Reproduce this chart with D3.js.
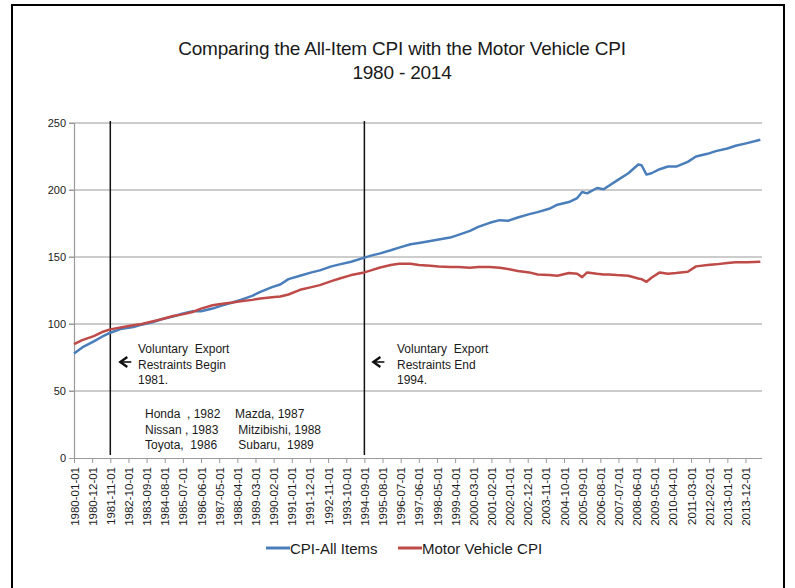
<!DOCTYPE html>
<html lang="en">
<head>
  <meta charset="utf-8">
  <title>CPI comparison</title>
  <script src="https://d3js.org/d3.v7.min.js"></script>
</head>
<style>
body { margin: 0; background: white; }
text { font-family: "Liberation Sans", Arial, sans-serif; fill: #1a1a1a; }
.title { font-size: 19px; letter-spacing: -0.2px; }
.ylab { font-size: 11px; }
.xlab { font-size: 11.5px; }
.note { font-size: 12px; }
.legend { font-size: 15px; }
.grid line { stroke: #9a9a9a; stroke-width: 1.2px; }
</style>
<body>
<div id="chart"></div>
<script>
// months of the samples
var dates = ["1980-01","1980-06","1981-01","1981-06","1981-11","1982-06","1983-01","1983-06","1984-01","1984-06",
  "1985-01","1985-06","1986-01","1986-06","1987-01","1987-06","1988-01","1988-06","1989-01","1989-06",
  "1990-01","1990-06","1990-11","1991-06","1992-01","1992-06","1993-01","1993-06","1994-01","1994-09",
  "1995-01","1995-06","1996-01","1996-06","1997-01","1997-06","1998-01","1998-06","1999-01","1999-06",
  "2000-01","2000-06","2001-01","2001-07","2001-12","2002-06","2003-01","2003-06","2004-01","2004-06",
  "2005-01","2005-06","2005-09","2005-12","2006-06","2006-10","2007-01","2007-06","2008-01","2008-07",
  "2008-09","2008-12","2009-03","2009-08","2010-01","2010-06","2011-01","2011-06","2012-01","2012-06",
  "2013-01","2013-06","2014-01","2014-09"];

var cpiAll = [78,82.5,87,90.5,93.5,96.5,97.8,99.5,101.5,103.5,
  105.5,107.5,109.5,109.5,111.5,113.5,116,118,121,124,
  127.5,129.5,133.5,136,138.5,140,143,144.5,146.5,149.5,
  151,152.5,155,157,159.5,160.5,162,163,164.5,166.5,
  169.5,172.5,175.5,177.5,177,179.5,182,183.5,186,189,
  191,194,198.5,197.5,201.5,200.5,203,207,212.5,219,
  218.5,211.5,212.5,215.5,217.5,217.5,221,225,227,229,
  231,233,235,237.5];

var motorCpi = [85,88,91,94,96,97.5,99,100,102,103.5,
  106,107,109,111.5,114,115,116,117,118,119,
  120,120.5,122,125.5,127.5,129,132,134,136.5,138.5,
  140,142,144,145,145,144,143.5,143,142.5,142.5,
  142,142.5,142.5,142,141,139.5,138.5,137,136.5,136,
  138,137.5,135,138.5,137.5,137,137,136.5,136,134,
  133.5,131.5,134.5,138.5,137.5,138,139,143,144,144.5,
  145.5,146,146,146.5];

var tickDates = ["1980-01","1980-12","1981-11","1982-10","1983-09","1984-08","1985-07","1986-06","1987-05","1988-04",
  "1989-03","1990-02","1991-01","1991-12","1992-11","1993-10","1994-09","1995-08","1996-07","1997-06",
  "1998-05","1999-04","2000-03","2001-02","2002-01","2002-12","2003-11","2004-10","2005-09","2006-08",
  "2007-07","2008-06","2009-05","2010-04","2011-03","2012-02","2013-01","2013-12"];
var yTicks = [0, 50, 100, 150, 200, 250];
var seriesNames = ["CPI-All Items", "Motor Vehicle CPI"];
var seriesColors = ["#4a7ebb", "#be4b48"];
var markerDates = ["1981-11", "1994-09"];

var width = 795, height = 588;
var svg = d3.select("#chart").append("svg")
  .attr("width", width)
  .attr("height", height);

svg.append("rect")
  .attr("x", 12).attr("y", 5)
  .attr("width", 772).attr("height", 600)
  .attr("fill", "white")
  .attr("stroke", "#000")
  .attr("stroke-width", 2);

function monthIndex(s) {
  var p = s.split("-");
  return (+p[0] - 1980) * 12 + (+p[1] - 1);
}

var x = d3.scaleLinear().domain([0, 417]).range([74, 762]);
var y = d3.scaleLinear().domain([0, 250]).range([458, 123]);

// title
svg.append("text").attr("class", "title")
  .attr("x", 402).attr("y", 55).attr("text-anchor", "middle")
  .text("Comparing the All-Item CPI with the Motor Vehicle CPI");
svg.append("text").attr("class", "title")
  .attr("x", 402).attr("y", 79).attr("text-anchor", "middle")
  .text("1980 - 2014");

// gridlines
svg.append("g").attr("class", "grid")
  .selectAll("line")
  .data(yTicks.filter(function(d) { return d > 0; }))
  .enter().append("line")
  .attr("x1", 69).attr("x2", 762)
  .attr("y1", function(d) { return y(d); })
  .attr("y2", function(d) { return y(d); });

// y axis
var yAxis = svg.append("g")
  .attr("transform", "translate(74,0)")
  .call(d3.axisLeft(y).tickValues(yTicks).tickSize(5).tickPadding(3));
yAxis.select(".domain").attr("stroke", "#9a9a9a").attr("stroke-width", 1.2);
yAxis.selectAll(".tick line").attr("stroke", "#9a9a9a");
yAxis.selectAll(".tick text").attr("class", "ylab")
  .style("font-family", "'Liberation Sans', Arial, sans-serif")
  .attr("fill", "#1a1a1a");

// x axis
var xAxis = svg.append("g")
  .attr("transform", "translate(0,458)")
  .call(d3.axisBottom(x)
    .tickValues(tickDates.map(monthIndex))
    .tickSize(5)
    .tickFormat(function(d, i) { return tickDates[i] + "-01"; }));
xAxis.select(".domain").attr("stroke", "#9a9a9a").attr("stroke-width", 1.2)
  .attr("d", "M74,0.5H762");
xAxis.selectAll(".tick line").attr("stroke", "#9a9a9a");
xAxis.selectAll(".tick text").attr("class", "xlab")
  .style("font-family", "'Liberation Sans', Arial, sans-serif")
  .attr("fill", "#1a1a1a")
  .attr("text-anchor", "end")
  .attr("transform", "rotate(-90)")
  .attr("x", -9).attr("y", 0).attr("dy", "0.35em");

// vertical markers
svg.selectAll(".marker")
  .data(markerDates)
  .enter().append("line")
  .attr("class", "marker")
  .attr("x1", function(d) { return x(monthIndex(d)); })
  .attr("x2", function(d) { return x(monthIndex(d)); })
  .attr("y1", 121).attr("y2", 455)
  .attr("stroke", "#111").attr("stroke-width", 1.5);

// lines
var line = d3.line()
  .x(function(d, i) { return x(monthIndex(dates[i])); })
  .y(function(d) { return y(d); });

[cpiAll, motorCpi].forEach(function(vals, k) {
  svg.append("path")
    .datum(vals)
    .attr("fill", "none")
    .attr("stroke", seriesColors[k])
    .attr("stroke-width", 2.5)
    .attr("stroke-linejoin", "round")
    .attr("d", line);
});

// annotations
function arrow(px, py) {
  svg.append("path")
    .attr("d", "M" + (px + 7) + "," + (py - 5) + "L" + px + "," + py + "L" + (px + 7) + "," + (py + 5))
    .attr("fill", "none").attr("stroke", "#111").attr("stroke-width", 2.4);
  svg.append("line")
    .attr("x1", px + 1).attr("x2", px + 11).attr("y1", py).attr("y2", py)
    .attr("stroke", "#111").attr("stroke-width", 1.6);
}

function note(tx, ty, lines, gap) {
  var t = svg.append("text").attr("class", "note");
  lines.forEach(function(s, i) {
    t.append("tspan").attr("x", tx).attr("y", ty + i * gap).attr("xml:space", "preserve").text(s);
  });
}

arrow(x(monthIndex("1981-11")) + 10, 362);
note(138, 353, ["Voluntary  Export", "Restraints Begin", "1981."], 15.5);
arrow(x(monthIndex("1994-09")) + 9, 362);
note(397, 353, ["Voluntary  Export", "Restraints End", "1994."], 15.5);

note(145, 418, ["Honda  , 1982", "Nissan , 1983", "Toyota,  1986"], 15.5);
note(235, 418, ["Mazda, 1987", " Mitzibishi, 1988", " Subaru,  1989"], 15.5);

// legend
var legend = svg.append("g").attr("transform", "translate(0,548)");
var legendX = [266, 398];
seriesNames.forEach(function(name, k) {
  legend.append("line")
    .attr("x1", legendX[k]).attr("x2", legendX[k] + 24)
    .attr("y1", 0).attr("y2", 0)
    .attr("stroke", seriesColors[k]).attr("stroke-width", 3);
  legend.append("text").attr("class", "legend")
    .attr("x", legendX[k] + 24).attr("y", 5.5)
    .text(name);
});
</script>
</body>
</html>
